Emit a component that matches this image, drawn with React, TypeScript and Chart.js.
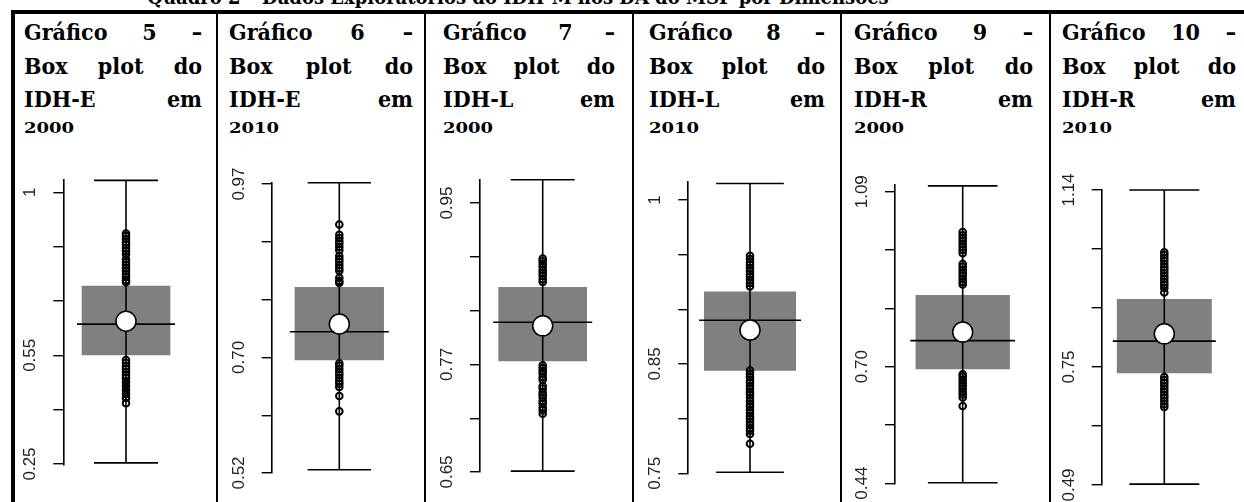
import React, { useEffect, useRef } from "react";
import { Chart, registerables } from "chart.js";

Chart.register(...registerables);

// ---------- texts ----------
const TITLE = "Quadro 2 – Dados Exploratórios do IDH-M nos DA do MSP por Dimensões";
const GRAPH_NUMBERS = ["5", "6", "7", "8", "9", "10"];
const INDICATORS = ["IDH-E", "IDH-E", "IDH-L", "IDH-L", "IDH-R", "IDH-R"];
const YEARS = ["2000", "2010", "2000", "2010", "2000", "2010"];

// ---------- data: [min, Q1, median, Q3, max] ----------
const IDHE_2000_BOX = [0.253, 0.551, 0.636, 0.741, 1.033];
const IDHE_2010_BOX = [0.525, 0.696, 0.74, 0.809, 0.972];
const IDHL_2000_BOX = [0.651, 0.774, 0.817, 0.856, 0.976];
const IDHL_2010_BOX = [0.751, 0.844, 0.89, 0.916, 1.015];
const IDHR_2000_BOX = [0.441, 0.695, 0.758, 0.859, 1.103];
const IDHR_2010_BOX = [0.492, 0.737, 0.807, 0.899, 1.14];

const IDHE_2000_MEAN = 0.644;
const IDHE_2010_MEAN = 0.752;
const IDHL_2000_MEAN = 0.813;
const IDHL_2010_MEAN = 0.881;
const IDHR_2000_MEAN = 0.777;
const IDHR_2010_MEAN = 0.823;

// individual points drawn on the centre line
const IDHE_2000_POINTS = [
  0.886, 0.879, 0.871, 0.862, 0.855, 0.846, 0.838, 0.829, 0.815, 0.807, 0.799, 0.79, 0.782, 0.774, 0.766, 0.757, 0.752,
  0.537, 0.529, 0.52, 0.512, 0.504, 0.495, 0.487, 0.476, 0.465, 0.454, 0.443, 0.432, 0.418,
];
const IDHE_2010_POINTS = [
  0.907, 0.891, 0.886, 0.881, 0.877, 0.872, 0.867, 0.858, 0.853, 0.849, 0.844, 0.839, 0.835, 0.824, 0.819, 0.816,
  0.691, 0.687, 0.682, 0.677, 0.673, 0.668, 0.663, 0.659, 0.654, 0.64, 0.616,
];
const IDHL_2000_POINTS = [
  0.888, 0.885, 0.882, 0.879, 0.875, 0.872, 0.869, 0.865, 0.862,
  0.769, 0.766, 0.763, 0.76, 0.756, 0.753, 0.746, 0.743, 0.739, 0.736, 0.733, 0.729, 0.726, 0.722, 0.719, 0.715,
];
const IDHL_2010_POINTS = [
  0.949, 0.946, 0.943, 0.941, 0.938, 0.935, 0.932, 0.93, 0.927, 0.924, 0.921,
  0.844, 0.841, 0.838, 0.835, 0.833, 0.83, 0.827, 0.824, 0.822, 0.819, 0.816, 0.813, 0.811, 0.808, 0.805, 0.802,
  0.8, 0.797, 0.794, 0.791, 0.789, 0.786, 0.777,
];
const IDHR_2000_POINTS = [
  1.0, 0.993, 0.986, 0.98, 0.973, 0.966, 0.96, 0.953, 0.929, 0.923, 0.916, 0.909, 0.903, 0.896, 0.889, 0.883,
  0.683, 0.678, 0.671, 0.664, 0.658, 0.651, 0.644, 0.638, 0.631, 0.612,
];
const IDHR_2010_POINTS = [
  1.003, 0.997, 0.99, 0.984, 0.977, 0.97, 0.964, 0.957, 0.95, 0.944, 0.937, 0.931, 0.924, 0.914,
  0.728, 0.721, 0.715, 0.708, 0.701, 0.695, 0.688, 0.682, 0.675, 0.668, 0.662,
];

// ---------- axes ----------
const IDHE_2000_TICKS = [0.25, 0.4, 0.55, 0.7, 0.85, 1.0];
const IDHE_2010_TICKS = [0.52, 0.61, 0.7, 0.79, 0.88, 0.97];
const IDHL_2000_TICKS = [0.65, 0.71, 0.77, 0.83, 0.89, 0.95];
const IDHL_2010_TICKS = [0.75, 0.8, 0.85, 0.9, 0.95, 1.0];
const IDHR_2000_TICKS = [0.44, 0.57, 0.7, 0.83, 0.96, 1.09];
const IDHR_2010_TICKS = [0.49, 0.62, 0.75, 0.88, 1.01, 1.14];

const IDHE_2000_LABELS = ["0.25", "", "0.55", "", "", "1"];
const IDHE_2010_LABELS = ["0.52", "", "0.70", "", "", "0.97"];
const IDHL_2000_LABELS = ["0.65", "", "0.77", "", "", "0.95"];
const IDHL_2010_LABELS = ["0.75", "", "0.85", "", "", "1"];
const IDHR_2000_LABELS = ["0.44", "", "0.70", "", "", "1.09"];
const IDHR_2010_LABELS = ["0.49", "", "0.75", "", "", "1.14"];

const Y_RANGES = [
  [0.2472, 1.034],
  [0.52, 0.9716],
  [0.65, 0.9757],
  [0.75, 1.0167],
  [0.4398, 1.105],
  [0.49, 1.14],
];

// ---------- layout (page pixels) ----------
const CANVAS_TOP = 150;
const CANVAS_H = 380;
const AXIS_W = 60;
const FS = 23;
const LINE_TOPS = [19.5, 53.5, 86.5];
const YEAR_TOP = 116;
const COL_SEPS = [217, 424.5, 632.5, 841, 1049.5];

const PANELS = [
  { axisX: 63.3, centerX: 126, top: 180, bottom: 465, boxW: 88, capW: 64, medW: 98, textL: 24, textR: 202 },
  { axisX: 271.7, centerX: 339.3, top: 183, bottom: 473, boxW: 88.7, capW: 63.3, medW: 99, textL: 229, textR: 413 },
  { axisX: 480, centerX: 542.7, top: 180, bottom: 472, boxW: 88, capW: 64, medW: 99, textL: 443, textR: 615 },
  { axisX: 688.3, centerX: 750, top: 181.7, bottom: 473.3, boxW: 91.4, capW: 67.7, medW: 102, textL: 649, textR: 825 },
  { axisX: 895, centerX: 962.7, top: 185, bottom: 483.3, boxW: 93.7, capW: 69.7, medW: 104.7, textL: 854, textR: 1033 },
  { axisX: 1101.7, centerX: 1164.3, top: 190, bottom: 485, boxW: 94.3, capW: 70, medW: 103, textL: 1062, textR: 1236 },
];

const SERIES = [
  { box: IDHE_2000_BOX, mean: IDHE_2000_MEAN, points: IDHE_2000_POINTS, ticks: IDHE_2000_TICKS, labels: IDHE_2000_LABELS },
  { box: IDHE_2010_BOX, mean: IDHE_2010_MEAN, points: IDHE_2010_POINTS, ticks: IDHE_2010_TICKS, labels: IDHE_2010_LABELS },
  { box: IDHL_2000_BOX, mean: IDHL_2000_MEAN, points: IDHL_2000_POINTS, ticks: IDHL_2000_TICKS, labels: IDHL_2000_LABELS },
  { box: IDHL_2010_BOX, mean: IDHL_2010_MEAN, points: IDHL_2010_POINTS, ticks: IDHL_2010_TICKS, labels: IDHL_2010_LABELS },
  { box: IDHR_2000_BOX, mean: IDHR_2000_MEAN, points: IDHR_2000_POINTS, ticks: IDHR_2000_TICKS, labels: IDHR_2000_LABELS },
  { box: IDHR_2010_BOX, mean: IDHR_2010_MEAN, points: IDHR_2010_POINTS, ticks: IDHR_2010_TICKS, labels: IDHR_2010_LABELS },
];

const LINE_W = 1.6;

function buildConfig(i: number, canvasLeft: number, canvasW: number): any {
  const s = SERIES[i];
  const L = PANELS[i];
  const half = L.centerX - L.axisX;
  const axisWidth = L.axisX - canvasLeft;
  const [mn, q1, md, q3, mx] = s.box;
  const seg = (x1: number, y1: number, x2: number, y2: number, order: number) => ({
    type: "line",
    data: [
      { x: x1, y: y1 },
      { x: x2, y: y2 },
    ],
    borderColor: "#000",
    borderWidth: LINE_W,
    pointRadius: 0,
    fill: false,
    clip: false,
    order,
  });
  return {
    type: "bar",
    data: {
      datasets: [
        {
          type: "scatter",
          data: [{ x: 0, y: s.mean }],
          pointRadius: 10,
          pointBackgroundColor: "#ffffff",
          pointBorderColor: "#000",
          pointBorderWidth: 1.5,
          clip: false,
          order: 1,
        },
        {
          type: "scatter",
          data: s.points.map((v) => ({ x: 0, y: v })),
          pointRadius: 3.3,
          pointBackgroundColor: "rgba(0,0,0,0)",
          pointBorderColor: "#000",
          pointBorderWidth: 2,
          clip: false,
          order: 2,
        },
        seg(-L.medW / 2, md, L.medW / 2, md, 3),
        seg(0, mn, 0, mx, 3),
        seg(-L.capW / 2, mx, L.capW / 2, mx, 3),
        seg(-L.capW / 2, mn, L.capW / 2, mn, 3),
        {
          type: "bar",
          data: [{ x: 0, y: [q1, q3] }],
          backgroundColor: "#808080",
          borderWidth: 0,
          barThickness: L.boxW,
          clip: false,
          order: 5,
        },
      ],
    },
    options: {
      responsive: false,
      animation: false,
      events: [],
      layout: {
        padding: {
          left: 0,
          right: canvasW - axisWidth - 2 * half,
          top: L.top - CANVAS_TOP,
          bottom: CANVAS_TOP + CANVAS_H - L.bottom,
        },
      },
      plugins: {
        legend: { display: false },
        tooltip: { enabled: false },
        title: { display: false },
      },
      scales: {
        x: {
          type: "linear",
          display: false,
          min: -half,
          max: half,
          offset: false,
        },
        y: {
          type: "linear",
          min: Y_RANGES[i][0],
          max: Y_RANGES[i][1],
          beginAtZero: false,
          afterBuildTicks: (sc: any) => {
            sc.ticks = s.ticks.map((v) => ({ value: v }));
          },
          afterFit: (sc: any) => {
            sc.width = axisWidth;
          },
          grid: {
            display: true,
            drawOnChartArea: false,
            drawTicks: true,
            tickLength: 10,
            color: "#000",
            lineWidth: 1.4,
          },
          border: { display: true, color: "#000", width: LINE_W },
          ticks: {
            autoSkip: false,
            minRotation: 90,
            maxRotation: 90,
            crossAlign: "center",
            padding: 6,
            color: "#222",
            font: { family: "'Liberation Sans', Arial, sans-serif", size: 17 },
            callback: (_v: any, idx: number) => s.labels[idx],
          },
        },
      },
    },
  };
}

function BoxPanel({ index }: { index: number }) {
  const ref = useRef<HTMLCanvasElement>(null);
  const L = PANELS[index];
  const left = Math.floor(L.axisX - AXIS_W);
  const width = Math.ceil(L.axisX - left + 2 * (L.centerX - L.axisX) + 14);
  useEffect(() => {
    const chart = new Chart(ref.current as HTMLCanvasElement, buildConfig(index, left, width));
    return () => chart.destroy();
  }, []);
  return (
    <canvas
      ref={ref}
      width={width}
      height={CANVAS_H}
      style={{ position: "absolute", left, top: CANVAS_TOP, width, height: CANVAS_H }}
    />
  );
}

const serif = "'DejaVu Serif', 'Liberation Serif', serif";

function Header({ index }: { index: number }) {
  const L = PANELS[index];
  const lines = [`Gráfico ${GRAPH_NUMBERS[index]} –`, "Box plot do", `${INDICATORS[index]} em`];
  const base: React.CSSProperties = {
    position: "absolute",
    left: L.textL,
    width: L.textR - L.textL,
    fontFamily: serif,
    fontWeight: "bold",
    fontStretch: "condensed",
    fontSize: FS,
    lineHeight: `${FS}px`,
    color: "#000",
  };
  return (
    <>
      {lines.map((t, k) => (
        <div key={k} style={{ ...base, top: LINE_TOPS[k], textAlign: "justify", textAlignLast: "justify" as any }}>
          {t}
        </div>
      ))}
      <div style={{ ...base, top: YEAR_TOP, fontSize: 20, lineHeight: "20px", textAlign: "left" }}>
        <span
          style={{
            display: "inline-block",
            transform: "scaleY(0.72)",
            transformOrigin: "50% 85%",
          }}
        >
          {YEARS[index]}
        </span>
      </div>
    </>
  );
}

export default function App() {
  return (
    <div
      style={{
        position: "absolute",
        left: 0,
        top: 0,
        width: 1244,
        height: 502,
        overflow: "hidden",
        background: "#fff",
      }}
    >
      <div
        style={{
          position: "absolute",
          left: 0,
          width: 1036,
          top: -13,
          textAlign: "center",
          fontFamily: serif,
          fontWeight: "bold",
          fontStretch: "condensed",
          fontSize: 20,
          lineHeight: "20px",
          whiteSpace: "nowrap",
          color: "#000",
        }}
      >
        {TITLE}
      </div>
      {/* table borders */}
      <div style={{ position: "absolute", left: 11, top: 10, width: 1300, height: 3.5, background: "#000" }} />
      <div style={{ position: "absolute", left: 11, top: 10, width: 3.5, height: 520, background: "#000" }} />
      {COL_SEPS.map((x, k) => (
        <div key={k} style={{ position: "absolute", left: x - 1, top: 12, width: 2, height: 520, background: "#000" }} />
      ))}
      {PANELS.map((_, i) => (
        <Header key={"h" + i} index={i} />
      ))}
      {PANELS.map((_, i) => (
        <BoxPanel key={"c" + i} index={i} />
      ))}
    </div>
  );
}
